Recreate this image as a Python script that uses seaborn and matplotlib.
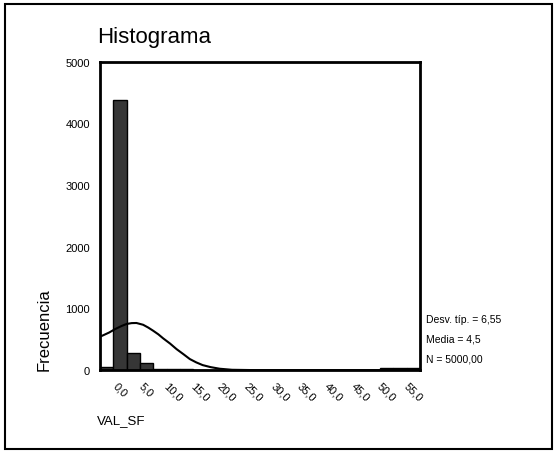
import numpy as np
import pandas as pd
import seaborn as sns
import matplotlib.pyplot as plt
from matplotlib.patches import Rectangle

# bins of width 2,5 centred on -2,5 ... 55,0
bin_start = -3.75
bin_width = 2.5
bin_centers = [-2.5, 0.0, 2.5, 5.0, 7.5, 10.0, 12.5, 15.0, 17.5, 20.0, 22.5, 25.0,
               27.5, 30.0, 32.5, 35.0, 37.5, 40.0, 42.5, 45.0, 47.5, 50.0, 52.5, 55.0]
counts = [50, 4380, 275, 110, 20, 15, 10, 5, 8, 8, 0, 0,
          0, 0, 0, 0, 0, 0, 0, 0, 0, 30, 30, 30]

# normal curve
curve_x = [-3.75, -2.0, -0.9, 0.3, 1.25, 2.2, 3.1, 4.35, 5.3, 6.2, 7.2, 8.1,
           9.4, 10.6, 11.9, 13.1, 14.3, 15.5, 17.0, 18.7, 21.0, 25.0, 56.25]
curve_y = [540, 610, 665, 715, 748, 762, 764, 735, 690, 640, 580, 515,
           430, 341, 258, 179, 125, 81, 48, 22, 5, 0, 0]

tick_values = [0, 5, 10, 15, 20, 25, 30, 35, 40, 45, 50, 55]
tick_labels = ["0,0", "5,0", "10,0", "15,0", "20,0", "25,0", "30,0", "35,0",
               "40,0", "45,0", "50,0", "55,0"]
y_ticks = [0, 1000, 2000, 3000, 4000, 5000]
stats_lines = ["Desv. típ. = 6,55", "Media = 4,5", "N = 5000,00"]

sns.set_style("white")
plt.rcParams['font.family'] = ['Liberation Sans', 'DejaVu Sans']
plt.rcParams['text.color'] = 'black'
plt.rcParams['xtick.color'] = 'black'
plt.rcParams['ytick.color'] = 'black'

df = pd.DataFrame({"VAL_SF": bin_centers, "n": counts})
edges = [bin_start + bin_width * i for i in range(len(bin_centers) + 1)]

fig = plt.figure(figsize=(5.55, 4.52), dpi=100)
ax = fig.add_axes([0.180, 0.179, 0.577, 0.682])

sns.histplot(data=df, x="VAL_SF", weights="n", bins=edges, ax=ax,
             color="#363636", edgecolor="black", linewidth=1, alpha=1)
sns.lineplot(x=curve_x, y=curve_y, ax=ax, color="black", linewidth=1.5, sort=False)

ax.set_xlim(edges[0], edges[-1])
ax.set_ylim(0, 5000)
ax.set_xticks(bin_centers, minor=True)
ax.set_xticks(tick_values)
ax.set_xticklabels(tick_labels, rotation=-45, ha="center", va="top", fontsize=8)
ax.set_yticks(y_ticks)
ax.set_yticklabels([str(v) for v in y_ticks], fontsize=8)
ax.tick_params(axis="both", which="both", direction="out", length=3, width=1.5,
               color="black", labelcolor="black", pad=4)
ax.set_xlabel("")
ax.set_ylabel("")
for s in ax.spines.values():
    s.set_visible(True)
    s.set_color("black")
    s.set_linewidth(2)

fig.text(0.175, 0.918, "Histograma", fontsize=16, ha="left", va="center")
fig.text(0.079, 0.27, "Frecuencia", fontsize=12, rotation=90, ha="center", va="center")
fig.text(0.175, 0.068, "VAL_SF", fontsize=9.5, ha="left", va="center")
for i, line in enumerate(stats_lines):
    fig.text(0.768, 0.292 - i * 0.044, line, fontsize=7.5, ha="left", va="center")

fig.patches.append(Rectangle((0.009, 0.004), 0.986, 0.985, transform=fig.transFigure,
                             fill=False, edgecolor="black", linewidth=1.5))

fig.savefig("out.png", dpi=100)
